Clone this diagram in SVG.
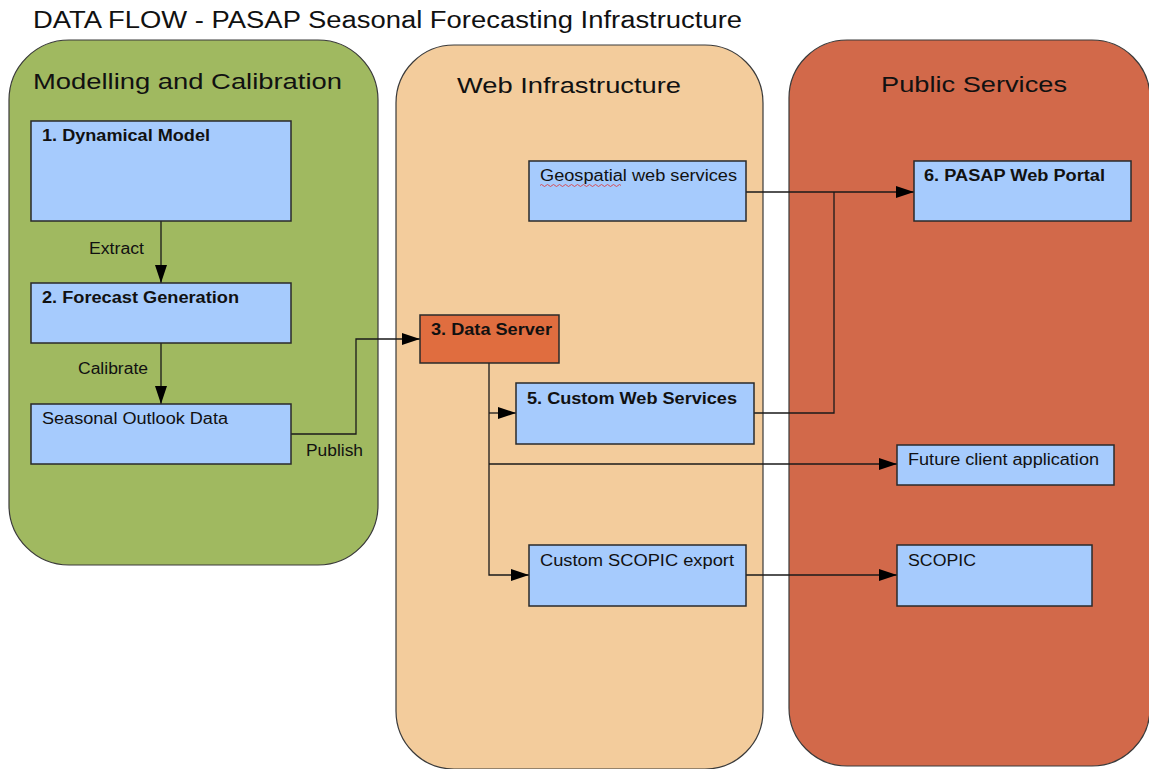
<svg xmlns="http://www.w3.org/2000/svg" width="1149" height="769" viewBox="0 0 1149 769">
<defs>
<style>
text{font-family:"Liberation Sans",Arial,sans-serif;fill:#111}
.panel{stroke:#3a3a3a;stroke-width:1.2}
.box{fill:#a6cbfd;stroke:#2a2a2a;stroke-width:1.5}
.lbl{font-size:16px}
.b{font-weight:bold}
.ptitle{font-size:22px}
.conn{fill:none;stroke:#1a1a1a;stroke-width:1.3}
</style>
<marker id="arr" viewBox="0 0 18 12" refX="18" refY="6" markerWidth="18" markerHeight="12" markerUnits="userSpaceOnUse" orient="auto">
<path d="M0,0 L18,6 L0,12 z" fill="#000"/>
</marker>
</defs>
<rect width="1149" height="769" fill="#fff"/>
<text x="33" y="28" style="font-size:23px" textLength="709" lengthAdjust="spacingAndGlyphs">DATA FLOW - PASAP Seasonal Forecasting Infrastructure</text>

<g id="panel-modelling">
<rect class="panel" x="9" y="40" width="369" height="525" rx="60" ry="60" fill="#a0b960"/>
<text class="ptitle" x="33" y="89" textLength="309" lengthAdjust="spacingAndGlyphs">Modelling and Calibration</text>
</g>
<g id="panel-web">
<rect class="panel" x="396" y="45" width="367" height="724" rx="58" ry="58" fill="#f3cc9c"/>
<text class="ptitle" x="457" y="93" textLength="224" lengthAdjust="spacingAndGlyphs">Web Infrastructure</text>
</g>
<g id="panel-public">
<rect class="panel" x="789" y="40" width="361" height="726" rx="58" ry="58" fill="#d2694a"/>
<text class="ptitle" x="881" y="92" textLength="186" lengthAdjust="spacingAndGlyphs">Public Services</text>
</g>

<g id="connectors">
<path class="conn" d="M161,221 V283" marker-end="url(#arr)"/>
<path class="conn" d="M161,343 V404" marker-end="url(#arr)"/>
<path class="conn" d="M291,434 H356 V339 H420" marker-end="url(#arr)"/>
<path class="conn" d="M746,192 H914" marker-end="url(#arr)"/>
<path class="conn" d="M754,413 H834 V192"/>
<path class="conn" d="M489,363 V575 H529" marker-end="url(#arr)"/>
<path class="conn" d="M489,413 H516" marker-end="url(#arr)"/>
<path class="conn" d="M489,464 H897" marker-end="url(#arr)"/>
<path class="conn" d="M746,575 H897" marker-end="url(#arr)"/>
<text class="lbl" x="89" y="254" textLength="55" lengthAdjust="spacingAndGlyphs">Extract</text>
<text class="lbl" x="78" y="374" textLength="70" lengthAdjust="spacingAndGlyphs">Calibrate</text>
<text class="lbl" x="306" y="456" textLength="57" lengthAdjust="spacingAndGlyphs">Publish</text>
</g>

<g id="n1-dynamical-model">
<rect class="box" x="31" y="121" width="260" height="100"/>
<text class="lbl b" x="42" y="141" textLength="168" lengthAdjust="spacingAndGlyphs">1. Dynamical Model</text>
</g>
<g id="n2-forecast-generation">
<rect class="box" x="31" y="283" width="260" height="60"/>
<text class="lbl b" x="42" y="303" textLength="197" lengthAdjust="spacingAndGlyphs">2. Forecast Generation</text>
</g>
<g id="n-seasonal-outlook">
<rect class="box" x="31" y="404" width="260" height="60"/>
<text class="lbl" x="42" y="424" textLength="186" lengthAdjust="spacingAndGlyphs">Seasonal Outlook Data</text>
</g>
<g id="n-geospatial">
<rect class="box" x="529" y="161" width="217" height="60"/>
<text class="lbl" x="540" y="181" textLength="197" lengthAdjust="spacingAndGlyphs">Geospatial web services</text>
<path d="M540,185.5 q1.5,-2 3,0 t3,0 t3,0 t3,0 t3,0 t3,0 t3,0 t3,0 t3,0 t3,0 t3,0 t3,0 t3,0 t3,0 t3,0 t3,0 t3,0 t3,0 t3,0 t3,0 t3,0 t3,0 t3,0 t3,0 t3,0 t3,0 t3,0" fill="none" stroke="#e03030" stroke-width="0.8"/>
</g>
<g id="n3-data-server">
<rect class="box" x="420" y="315" width="139" height="48" style="fill:#e06d3f"/>
<text class="lbl b" x="431" y="335" textLength="121" lengthAdjust="spacingAndGlyphs">3. Data Server</text>
</g>
<g id="n5-custom-web-services">
<rect class="box" x="516" y="383" width="238" height="61"/>
<text class="lbl b" x="527" y="404" textLength="210" lengthAdjust="spacingAndGlyphs">5. Custom Web Services</text>
</g>
<g id="n-custom-scopic-export">
<rect class="box" x="529" y="545" width="217" height="61"/>
<text class="lbl" x="540" y="566" textLength="194" lengthAdjust="spacingAndGlyphs">Custom SCOPIC export</text>
</g>
<g id="n6-pasap-web-portal">
<rect class="box" x="914" y="161" width="217" height="60"/>
<text class="lbl b" x="924" y="181" textLength="181" lengthAdjust="spacingAndGlyphs">6. PASAP Web Portal</text>
</g>
<g id="n-future-client">
<rect class="box" x="897" y="445" width="217" height="40"/>
<text class="lbl" x="908" y="465" textLength="191" lengthAdjust="spacingAndGlyphs">Future client application</text>
</g>
<g id="n-scopic">
<rect class="box" x="897" y="545" width="195" height="61"/>
<text class="lbl" x="908" y="566" textLength="68" lengthAdjust="spacingAndGlyphs">SCOPIC</text>
</g>
</svg>
